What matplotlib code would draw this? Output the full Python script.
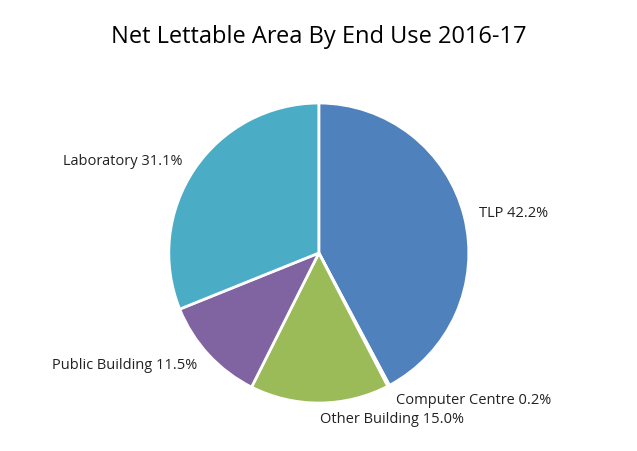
import matplotlib
matplotlib.use('Agg')
import matplotlib.pyplot as plt

labels = ['TLP', 'Computer Centre', 'Other Building', 'Public Building', 'Laboratory']
values = [42.2, 0.2, 15.0, 11.5, 31.1]
colors = ['#4F81BD', '#C0504D', '#9BBB59', '#8064A2', '#4BACC6']

fig = plt.figure(figsize=(6.37, 4.52), dpi=100)
ax = fig.add_axes([0.265, 0.106, 0.471, 0.664])
texts = ['%s %.1f%%' % (l, v) for l, v in zip(labels, values)]
ax.pie(values, labels=texts, colors=colors, startangle=90, counterclock=False,
       labeldistance=1.1, wedgeprops=dict(edgecolor='white', linewidth=2),
       textprops=dict(fontsize=10.5, family='Open Sans', color='#222222'))
ax.set_aspect('equal')
ax.set_xlim(-1, 1)
ax.set_ylim(-1, 1)
fig.suptitle('Net Lettable Area By End Use 2016-17', y=0.945, fontsize=17, family='Open Sans')
fig.savefig('out.png', dpi=100)
